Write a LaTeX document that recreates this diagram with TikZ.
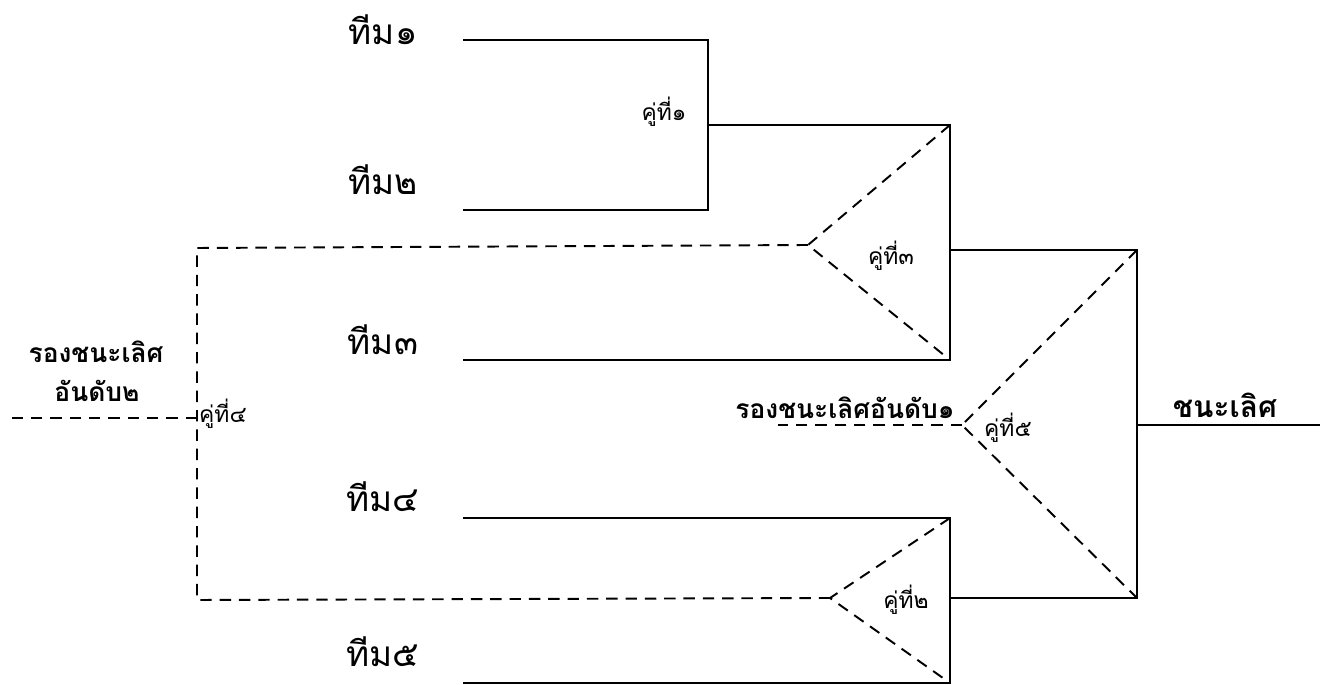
\documentclass[tikz,border=0pt]{standalone}
\usepackage{fontspec}
\newfontfamily\thaifont[Script=Thai]{Loma}
\tikzset{
  wire/.style={line width=1.1pt, black},
  dwire/.style={line width=1.1pt, black, dash pattern=on 6.5pt off 4.5pt},
  team/.style={font=\thaifont\fontsize{20}{24}\selectfont, inner sep=0pt},
  pair/.style={font=\thaifont\fontsize{13}{16}\selectfont, inner sep=0pt},
  result/.style={font=\thaifont\bfseries\fontsize{15}{19}\selectfont, inner sep=0pt, align=center},
  bigresult/.style={font=\thaifont\bfseries\fontsize{17}{21}\selectfont, inner sep=0pt},
}
\begin{document}
\begin{tikzpicture}[x=0.02cm,y=-0.02cm]
\useasboundingbox (0,0) rectangle (1325,685);
% coordinates
\coordinate (t1a) at (463,40);  \coordinate (t1b) at (708,40);
\coordinate (t2a) at (463,210); \coordinate (t2b) at (708,210);
\coordinate (m1o) at (708,125); \coordinate (m3t) at (950,125);
\coordinate (t3a) at (463,360); \coordinate (m3b) at (950,360);
\coordinate (m3m) at (950,250); \coordinate (m5t) at (1137,250);
\coordinate (m3apex) at (808,245);
\coordinate (l1) at (197,248);
\coordinate (t4a) at (463,518); \coordinate (m2t) at (950,518);
\coordinate (t5a) at (463,683); \coordinate (m2b) at (950,683);
\coordinate (m2m) at (950,598); \coordinate (m5b) at (1137,598);
\coordinate (m2apex) at (830,598);
\coordinate (l2) at (197,600);
\coordinate (m5m) at (1137,425); \coordinate (win) at (1320,425);
\coordinate (m5apex) at (962,425); \coordinate (r1) at (778,425);
\coordinate (m4m) at (197,418); \coordinate (r2) at (10,418);
% solid bracket lines
\draw[wire] (t1a) -- (t1b) -- (t2b) -- (t2a);
\draw[wire] (m1o) -- (m3t) -- (m3b) -- (t3a);
\draw[wire] (m3m) -- (m5t) -- (m5b) -- (m2m);
\draw[wire] (t4a) -- (m2t) -- (m2b) -- (t5a);
\draw[wire] (m5m) -- (win);
% dashed lines
\draw[dwire] (m3t) -- (m3apex) -- (m3b);
\draw[dwire] (m3apex) -- (l1) -- (l2) -- (m2apex);
\draw[dwire] (m2t) -- (m2apex) -- (m2b);
\draw[dwire] (m5t) -- (m5apex) -- (m5b);
\draw[dwire] (m5apex) -- (r1);
\draw[dwire] (m4m) -- (r2);
% labels
\node[team] (n1) at (383,30) {ทีม๑};
\node[team] (n2) at (383,180) {ทีม๒};
\node[team] (n3) at (383,340) {ทีม๓};
\node[team] (n4) at (383,497) {ทีม๔};
\node[team] (n5) at (383,652) {ทีม๕};
\node[pair] (p1) at (664,112) {คู่ที่๑};
\node[pair] (p3) at (891,256) {คู่ที่๓};
\node[pair] (p2) at (906,600) {คู่ที่๒};
\node[pair] (p5) at (1008,428) {คู่ที่๕};
\node[pair] (p4) at (223,414) {คู่ที่๔};
\node[result] (w1) at (845,408) {รองชนะเลิศอันดับ๑};
\node[bigresult] (w0) at (1225,405) {ชนะเลิศ};
\node[result] (w2a) at (96,352) {รองชนะเลิศ};
\node[result] (w2b) at (97,391) {อันดับ๒};
\end{tikzpicture}
\end{document}
